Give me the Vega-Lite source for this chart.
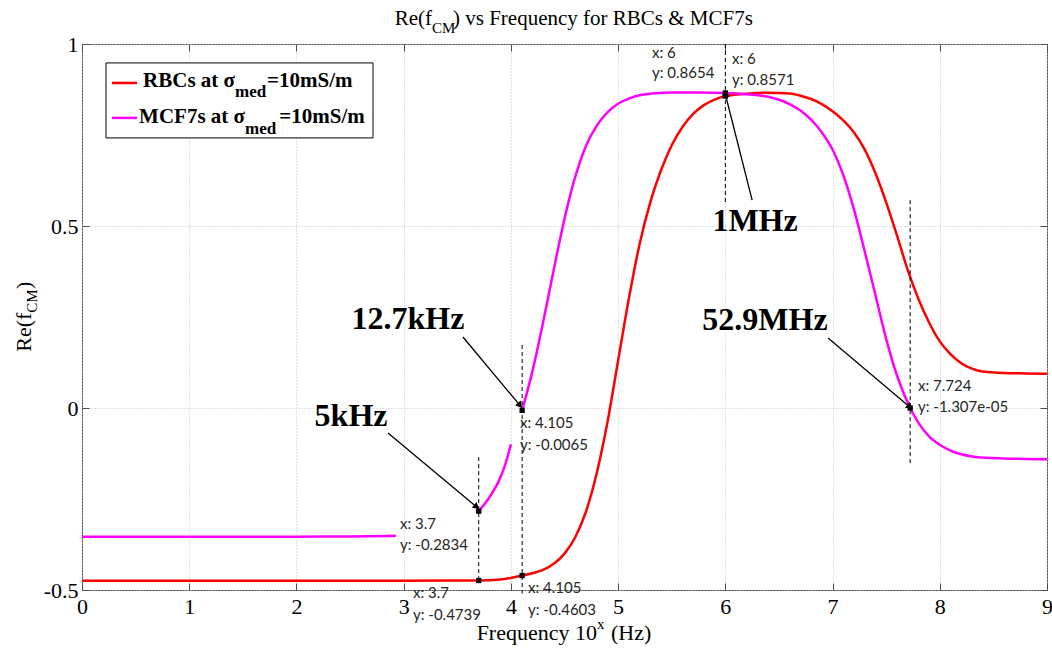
{
  "$schema": "https://vega.github.io/schema/vega-lite/v6.json",
  "width": 965,
  "height": 546,
  "autosize": {"type": "none"},
  "padding": {"left": 82, "top": 44, "right": 5, "bottom": 61},
  "background": "white",
  "config": {
    "view": {"stroke": "#4d4d4d", "strokeWidth": 1},
    "font": "Liberation Serif"
  },
  "datasets": {
    "curves": [
      {"f": 0, "v": -0.4745, "series": "RBCs", "seg": "r"},
      {"f": 1, "v": -0.4745, "series": "RBCs", "seg": "r"},
      {"f": 2, "v": -0.4745, "series": "RBCs", "seg": "r"},
      {"f": 3, "v": -0.4743, "series": "RBCs", "seg": "r"},
      {"f": 3.4, "v": -0.4742, "series": "RBCs", "seg": "r"},
      {"f": 3.7, "v": -0.4739, "series": "RBCs", "seg": "r"},
      {"f": 3.9, "v": -0.4712, "series": "RBCs", "seg": "r"},
      {"f": 4.105, "v": -0.4603, "series": "RBCs", "seg": "r"},
      {"f": 4.2, "v": -0.454, "series": "RBCs", "seg": "r"},
      {"f": 4.3, "v": -0.445, "series": "RBCs", "seg": "r"},
      {"f": 4.4, "v": -0.428, "series": "RBCs", "seg": "r"},
      {"f": 4.5, "v": -0.4, "series": "RBCs", "seg": "r"},
      {"f": 4.6, "v": -0.355, "series": "RBCs", "seg": "r"},
      {"f": 4.7, "v": -0.285, "series": "RBCs", "seg": "r"},
      {"f": 4.8, "v": -0.18, "series": "RBCs", "seg": "r"},
      {"f": 4.9, "v": -0.04, "series": "RBCs", "seg": "r"},
      {"f": 5.0, "v": 0.13, "series": "RBCs", "seg": "r"},
      {"f": 5.1, "v": 0.3, "series": "RBCs", "seg": "r"},
      {"f": 5.2, "v": 0.45, "series": "RBCs", "seg": "r"},
      {"f": 5.3, "v": 0.565, "series": "RBCs", "seg": "r"},
      {"f": 5.4, "v": 0.653, "series": "RBCs", "seg": "r"},
      {"f": 5.5, "v": 0.722, "series": "RBCs", "seg": "r"},
      {"f": 5.6, "v": 0.772, "series": "RBCs", "seg": "r"},
      {"f": 5.7, "v": 0.808, "series": "RBCs", "seg": "r"},
      {"f": 5.8, "v": 0.832, "series": "RBCs", "seg": "r"},
      {"f": 5.9, "v": 0.847, "series": "RBCs", "seg": "r"},
      {"f": 6.0, "v": 0.8571, "series": "RBCs", "seg": "r"},
      {"f": 6.2, "v": 0.8635, "series": "RBCs", "seg": "r"},
      {"f": 6.4, "v": 0.866, "series": "RBCs", "seg": "r"},
      {"f": 6.6, "v": 0.864, "series": "RBCs", "seg": "r"},
      {"f": 6.7, "v": 0.858, "series": "RBCs", "seg": "r"},
      {"f": 6.8, "v": 0.849, "series": "RBCs", "seg": "r"},
      {"f": 6.9, "v": 0.835, "series": "RBCs", "seg": "r"},
      {"f": 7.0, "v": 0.815, "series": "RBCs", "seg": "r"},
      {"f": 7.1, "v": 0.79, "series": "RBCs", "seg": "r"},
      {"f": 7.2, "v": 0.757, "series": "RBCs", "seg": "r"},
      {"f": 7.3, "v": 0.71, "series": "RBCs", "seg": "r"},
      {"f": 7.4, "v": 0.645, "series": "RBCs", "seg": "r"},
      {"f": 7.5, "v": 0.565, "series": "RBCs", "seg": "r"},
      {"f": 7.6, "v": 0.475, "series": "RBCs", "seg": "r"},
      {"f": 7.7, "v": 0.38, "series": "RBCs", "seg": "r"},
      {"f": 7.8, "v": 0.3, "series": "RBCs", "seg": "r"},
      {"f": 7.9, "v": 0.235, "series": "RBCs", "seg": "r"},
      {"f": 8.0, "v": 0.183, "series": "RBCs", "seg": "r"},
      {"f": 8.1, "v": 0.148, "series": "RBCs", "seg": "r"},
      {"f": 8.2, "v": 0.123, "series": "RBCs", "seg": "r"},
      {"f": 8.3, "v": 0.108, "series": "RBCs", "seg": "r"},
      {"f": 8.4, "v": 0.1, "series": "RBCs", "seg": "r"},
      {"f": 8.6, "v": 0.096, "series": "RBCs", "seg": "r"},
      {"f": 8.8, "v": 0.095, "series": "RBCs", "seg": "r"},
      {"f": 9.0, "v": 0.094, "series": "RBCs", "seg": "r"},

      {"f": 0, "v": -0.354, "series": "MCF7s", "seg": "m1"},
      {"f": 1, "v": -0.354, "series": "MCF7s", "seg": "m1"},
      {"f": 2, "v": -0.3535, "series": "MCF7s", "seg": "m1"},
      {"f": 2.5, "v": -0.353, "series": "MCF7s", "seg": "m1"},
      {"f": 2.93, "v": -0.351, "series": "MCF7s", "seg": "m1"},

      {"f": 3.7, "v": -0.2834, "series": "MCF7s", "seg": "m2"},
      {"f": 3.76, "v": -0.262, "series": "MCF7s", "seg": "m2"},
      {"f": 3.82, "v": -0.236, "series": "MCF7s", "seg": "m2"},
      {"f": 3.88, "v": -0.205, "series": "MCF7s", "seg": "m2"},
      {"f": 3.94, "v": -0.162, "series": "MCF7s", "seg": "m2"},
      {"f": 4.0, "v": -0.1, "series": "MCF7s", "seg": "m2"},

      {"f": 4.105, "v": -0.0065, "series": "MCF7s", "seg": "m3"},
      {"f": 4.2, "v": 0.1, "series": "MCF7s", "seg": "m3"},
      {"f": 4.3, "v": 0.235, "series": "MCF7s", "seg": "m3"},
      {"f": 4.4, "v": 0.38, "series": "MCF7s", "seg": "m3"},
      {"f": 4.5, "v": 0.52, "series": "MCF7s", "seg": "m3"},
      {"f": 4.6, "v": 0.635, "series": "MCF7s", "seg": "m3"},
      {"f": 4.7, "v": 0.72, "series": "MCF7s", "seg": "m3"},
      {"f": 4.8, "v": 0.775, "series": "MCF7s", "seg": "m3"},
      {"f": 4.9, "v": 0.812, "series": "MCF7s", "seg": "m3"},
      {"f": 5.0, "v": 0.836, "series": "MCF7s", "seg": "m3"},
      {"f": 5.1, "v": 0.85, "series": "MCF7s", "seg": "m3"},
      {"f": 5.2, "v": 0.859, "series": "MCF7s", "seg": "m3"},
      {"f": 5.35, "v": 0.865, "series": "MCF7s", "seg": "m3"},
      {"f": 5.5, "v": 0.867, "series": "MCF7s", "seg": "m3"},
      {"f": 5.75, "v": 0.867, "series": "MCF7s", "seg": "m3"},
      {"f": 6.0, "v": 0.8654, "series": "MCF7s", "seg": "m3"},
      {"f": 6.2, "v": 0.862, "series": "MCF7s", "seg": "m3"},
      {"f": 6.4, "v": 0.855, "series": "MCF7s", "seg": "m3"},
      {"f": 6.5, "v": 0.847, "series": "MCF7s", "seg": "m3"},
      {"f": 6.6, "v": 0.835, "series": "MCF7s", "seg": "m3"},
      {"f": 6.7, "v": 0.817, "series": "MCF7s", "seg": "m3"},
      {"f": 6.8, "v": 0.792, "series": "MCF7s", "seg": "m3"},
      {"f": 6.9, "v": 0.757, "series": "MCF7s", "seg": "m3"},
      {"f": 7.0, "v": 0.71, "series": "MCF7s", "seg": "m3"},
      {"f": 7.1, "v": 0.64, "series": "MCF7s", "seg": "m3"},
      {"f": 7.2, "v": 0.545, "series": "MCF7s", "seg": "m3"},
      {"f": 7.3, "v": 0.43, "series": "MCF7s", "seg": "m3"},
      {"f": 7.4, "v": 0.31, "series": "MCF7s", "seg": "m3"},
      {"f": 7.5, "v": 0.19, "series": "MCF7s", "seg": "m3"},
      {"f": 7.6, "v": 0.09, "series": "MCF7s", "seg": "m3"},
      {"f": 7.724, "v": 0.0, "series": "MCF7s", "seg": "m3"},
      {"f": 7.8, "v": -0.04, "series": "MCF7s", "seg": "m3"},
      {"f": 7.9, "v": -0.078, "series": "MCF7s", "seg": "m3"},
      {"f": 8.0, "v": -0.101, "series": "MCF7s", "seg": "m3"},
      {"f": 8.1, "v": -0.117, "series": "MCF7s", "seg": "m3"},
      {"f": 8.2, "v": -0.127, "series": "MCF7s", "seg": "m3"},
      {"f": 8.3, "v": -0.133, "series": "MCF7s", "seg": "m3"},
      {"f": 8.45, "v": -0.137, "series": "MCF7s", "seg": "m3"},
      {"f": 8.6, "v": -0.139, "series": "MCF7s", "seg": "m3"},
      {"f": 8.8, "v": -0.14, "series": "MCF7s", "seg": "m3"},
      {"f": 9.0, "v": -0.141, "series": "MCF7s", "seg": "m3"}
    ],
    "tips": [
      {"x": 3.7, "y": -0.2834},
      {"x": 4.105, "y": -0.0065},
      {"x": 3.7, "y": -0.4739},
      {"x": 4.105, "y": -0.4603},
      {"x": 6, "y": 0.8654},
      {"x": 6, "y": 0.8571},
      {"x": 7.724, "y": -0.00001307}
    ],
    "tipText": [
      {"x": 2.966, "y": -0.319, "t": "x: 3.7"},
      {"x": 2.966, "y": -0.376, "t": "y: -0.2834"},
      {"x": 4.085, "y": -0.041, "t": "x: 4.105"},
      {"x": 4.085, "y": -0.102, "t": "y: -0.0065"},
      {"x": 3.087, "y": -0.508, "t": "x: 3.7"},
      {"x": 3.087, "y": -0.569, "t": "y: -0.4739"},
      {"x": 4.16, "y": -0.495, "t": "x: 4.105"},
      {"x": 4.16, "y": -0.555, "t": "y: -0.4603"},
      {"x": 5.316, "y": 0.975, "t": "x: 6"},
      {"x": 5.316, "y": 0.92, "t": "y: 0.8654"},
      {"x": 6.062, "y": 0.959, "t": "x: 6"},
      {"x": 6.062, "y": 0.901, "t": "y: 0.8571"},
      {"x": 7.797, "y": 0.06, "t": "x: 7.724"},
      {"x": 7.797, "y": 0.003, "t": "y: -1.307e-05"}
    ],
    "guides": [
      {"x": 3.7, "y": -0.135, "y2": -0.478},
      {"x": 4.105, "y": 0.173, "y2": -0.51},
      {"x": 6, "y": 1.0, "y2": 0.558},
      {"x": 7.724, "y": 0.571, "y2": -0.157}
    ],
    "arrows": [
      {"x": 2.854, "y": -0.069, "x2": 3.681, "y2": -0.272},
      {"x": 3.553, "y": 0.195, "x2": 4.085, "y2": 0.007},
      {"x": 6.25, "y": 0.571, "x2": 6.0, "y2": 0.862},
      {"x": 6.958, "y": 0.192, "x2": 7.72, "y2": 0.003}
    ],
    "callouts": [
      {"x": 2.509, "y": -0.022, "t": "5kHz"},
      {"x": 3.04, "y": 0.245, "t": "12.7kHz"},
      {"x": 6.277, "y": 0.514, "t": "1MHz"},
      {"x": 6.37, "y": 0.242, "t": "52.9MHz"}
    ]
  },
  "layer": [
    {
      "data": {"name": "curves"},
      "mark": {"type": "line", "strokeWidth": 2.5, "interpolate": "monotone"},
      "encoding": {
        "x": {
          "field": "f", "type": "quantitative",
          "scale": {"domain": [0, 9], "nice": false, "zero": false},
          "axis": {
            "orient": "bottom", "title": null, "values": [0, 1, 2, 3, 4, 5, 6, 7, 8, 9],
            "format": "d", "domain": false,
            "grid": true, "gridColor": "#c4c4c4", "gridDash": [1, 2], "gridWidth": 1,
            "tickSize": -7, "tickColor": "#4d4d4d", "labelPadding": 13,
            "labelFont": "Liberation Serif", "labelFontSize": 22, "labelColor": "#000",
            "labelFlush": false, "labelOverlap": false, "labelBound": false
          }
        },
        "y": {
          "field": "v", "type": "quantitative",
          "scale": {"domain": [-0.5, 1], "nice": false, "zero": false},
          "axis": {
            "orient": "left", "title": null, "values": [-0.5, 0, 0.5, 1],
            "labelExpr": "'' + datum.value", "domain": false,
            "grid": true, "gridColor": "#c4c4c4", "gridDash": [1, 2], "gridWidth": 1,
            "tickSize": -7, "tickColor": "#4d4d4d", "labelPadding": 11,
            "labelFont": "Liberation Serif", "labelFontSize": 22, "labelColor": "#000",
            "labelFlush": false, "labelOverlap": false, "labelBound": false
          }
        },
        "color": {
          "field": "series", "type": "nominal",
          "scale": {"domain": ["RBCs", "MCF7s"], "range": ["#ff0000", "#ff00ff"]},
          "legend": null
        },
        "detail": {"field": "seg", "type": "nominal"}
      }
    },
    {
      "data": {"name": "guides"},
      "mark": {"type": "rule", "color": "#000", "strokeWidth": 1, "strokeDash": [4, 3]},
      "encoding": {
        "x": {"field": "x", "type": "quantitative", "scale": {"domain": [0, 9], "nice": false, "zero": false}, "axis": null},
        "y": {"field": "y", "type": "quantitative", "scale": {"domain": [-0.5, 1], "nice": false, "zero": false}, "axis": null},
        "y2": {"field": "y2"}
      }
    },
    {
      "data": {"name": "arrows"},
      "mark": {"type": "rule", "color": "#000", "strokeWidth": 1.3},
      "encoding": {
        "x": {"field": "x", "type": "quantitative", "scale": {"domain": [0, 9], "nice": false, "zero": false}, "axis": null},
        "y": {"field": "y", "type": "quantitative", "scale": {"domain": [-0.5, 1], "nice": false, "zero": false}, "axis": null},
        "x2": {"field": "x2"},
        "y2": {"field": "y2"}
      }
    },
    {
      "data": {"name": "arrows"},
      "transform": [
        {"calculate": "atan2((datum.x2 - datum.x) * 107.22, (datum.y2 - datum.y) * 364) * 180 / PI", "as": "heading"}
      ],
      "mark": {"type": "point", "shape": "triangle-up", "filled": true, "color": "#000", "size": 55, "opacity": 1},
      "encoding": {
        "x": {"field": "x2", "type": "quantitative", "scale": {"domain": [0, 9], "nice": false, "zero": false}, "axis": null},
        "y": {"field": "y2", "type": "quantitative", "scale": {"domain": [-0.5, 1], "nice": false, "zero": false}, "axis": null},
        "angle": {"field": "heading", "type": "quantitative", "scale": null}
      }
    },
    {
      "data": {"name": "tips"},
      "mark": {"type": "point", "shape": "square", "filled": true, "color": "#000", "size": 28, "opacity": 1},
      "encoding": {
        "x": {
          "field": "x", "type": "quantitative",
          "scale": {"domain": [0, 9], "nice": false, "zero": false},
          "axis": {"orient": "top", "title": null, "values": [0, 1, 2, 3, 4, 5, 6, 7, 8, 9], "labels": false, "domain": false, "grid": false, "tickSize": -7, "tickColor": "#4d4d4d"}
        },
        "y": {
          "field": "y", "type": "quantitative",
          "scale": {"domain": [-0.5, 1], "nice": false, "zero": false},
          "axis": {"orient": "right", "title": null, "values": [-0.5, 0, 0.5, 1], "labels": false, "domain": false, "grid": false, "tickSize": -7, "tickColor": "#4d4d4d"}
        }
      }
    },
    {
      "data": {"name": "tipText"},
      "mark": {"type": "text", "align": "left", "baseline": "middle", "font": "Lato", "fontSize": 15, "color": "#262626"},
      "encoding": {
        "x": {"field": "x", "type": "quantitative", "scale": {"domain": [0, 9], "nice": false, "zero": false}, "axis": null},
        "y": {"field": "y", "type": "quantitative", "scale": {"domain": [-0.5, 1], "nice": false, "zero": false}, "axis": null},
        "text": {"field": "t"}
      }
    },
    {
      "data": {"name": "callouts"},
      "mark": {"type": "text", "align": "center", "baseline": "middle", "font": "Liberation Serif", "fontWeight": "bold", "fontSize": 32, "color": "#000"},
      "encoding": {
        "x": {"field": "x", "type": "quantitative", "scale": {"domain": [0, 9], "nice": false, "zero": false}, "axis": null},
        "y": {"field": "y", "type": "quantitative", "scale": {"domain": [-0.5, 1], "nice": false, "zero": false}, "axis": null},
        "text": {"field": "t"}
      }
    },
    {
      "data": {"values": [{"x": 0.224, "x2": 2.714, "y": 0.948, "y2": 0.742}]},
      "mark": {"type": "rect", "fill": "#fff", "stroke": "#000", "strokeWidth": 1},
      "encoding": {
        "x": {"field": "x", "type": "quantitative", "scale": {"domain": [0, 9], "nice": false, "zero": false}, "axis": null},
        "y": {"field": "y", "type": "quantitative", "scale": {"domain": [-0.5, 1], "nice": false, "zero": false}, "axis": null},
        "x2": {"field": "x2"},
        "y2": {"field": "y2"}
      }
    },
    {
      "data": {"values": [
        {"x": 0.28, "x2": 0.513, "y": 0.893, "series": "RBCs"},
        {"x": 0.28, "x2": 0.513, "y": 0.797, "series": "MCF7s"}
      ]},
      "mark": {"type": "rule", "strokeWidth": 2.5},
      "encoding": {
        "x": {"field": "x", "type": "quantitative", "scale": {"domain": [0, 9], "nice": false, "zero": false}, "axis": null},
        "y": {"field": "y", "type": "quantitative", "scale": {"domain": [-0.5, 1], "nice": false, "zero": false}, "axis": null},
        "x2": {"field": "x2"},
        "color": {"field": "series", "type": "nominal", "scale": {"domain": ["RBCs", "MCF7s"], "range": ["#ff0000", "#ff00ff"]}, "legend": null}
      }
    },
    {
      "data": {"values": [
        {"x": 1.427, "y": 0.882, "t": "RBCs at σ"},
        {"x": 1.52, "y": 0.783, "t": "MCF7s at σ"}
      ]},
      "mark": {"type": "text", "align": "right", "baseline": "alphabetic", "font": "Liberation Serif", "fontWeight": "bold", "fontSize": 21, "color": "#000"},
      "encoding": {
        "x": {"field": "x", "type": "quantitative", "scale": {"domain": [0, 9], "nice": false, "zero": false}, "axis": null},
        "y": {"field": "y", "type": "quantitative", "scale": {"domain": [-0.5, 1], "nice": false, "zero": false}, "axis": null},
        "text": {"field": "t"}
      }
    },
    {
      "data": {"values": [
        {"x": 1.427, "y": 0.854, "t": "med"},
        {"x": 1.52, "y": 0.753, "t": "med"}
      ]},
      "mark": {"type": "text", "align": "left", "baseline": "alphabetic", "font": "Liberation Serif", "fontWeight": "bold", "fontSize": 17, "color": "#000"},
      "encoding": {
        "x": {"field": "x", "type": "quantitative", "scale": {"domain": [0, 9], "nice": false, "zero": false}, "axis": null},
        "y": {"field": "y", "type": "quantitative", "scale": {"domain": [-0.5, 1], "nice": false, "zero": false}, "axis": null},
        "text": {"field": "t"}
      }
    },
    {
      "data": {"values": [
        {"x": 1.7255, "y": 0.882, "t": "=10mS/m"},
        {"x": 1.84, "y": 0.783, "t": "=10mS/m"}
      ]},
      "mark": {"type": "text", "align": "left", "baseline": "alphabetic", "font": "Liberation Serif", "fontWeight": "bold", "fontSize": 21, "color": "#000"},
      "encoding": {
        "x": {"field": "x", "type": "quantitative", "scale": {"domain": [0, 9], "nice": false, "zero": false}, "axis": null},
        "y": {"field": "y", "type": "quantitative", "scale": {"domain": [-0.5, 1], "nice": false, "zero": false}, "axis": null},
        "text": {"field": "t"}
      }
    },
    {
      "data": {"values": [{"x": 3.264, "y": 1.0522, "t": "Re(f"}]},
      "mark": {"type": "text", "align": "right", "baseline": "alphabetic", "font": "Liberation Serif", "fontSize": 21, "color": "#000"},
      "encoding": {
        "x": {"field": "x", "type": "quantitative", "scale": {"domain": [0, 9], "nice": false, "zero": false}, "axis": null},
        "y": {"field": "y", "type": "quantitative", "scale": {"domain": [-0.5, 1], "nice": false, "zero": false}, "axis": null},
        "text": {"field": "t"}
      }
    },
    {
      "data": {"values": [{"x": 3.264, "y": 1.0302, "t": "CM"}]},
      "mark": {"type": "text", "align": "left", "baseline": "alphabetic", "font": "Liberation Serif", "fontSize": 15, "color": "#000"},
      "encoding": {
        "x": {"field": "x", "type": "quantitative", "scale": {"domain": [0, 9], "nice": false, "zero": false}, "axis": null},
        "y": {"field": "y", "type": "quantitative", "scale": {"domain": [-0.5, 1], "nice": false, "zero": false}, "axis": null},
        "text": {"field": "t"}
      }
    },
    {
      "data": {"values": [{"x": 3.46, "y": 1.0522, "t": ") vs Frequency for RBCs & MCF7s"}]},
      "mark": {"type": "text", "align": "left", "baseline": "alphabetic", "font": "Liberation Serif", "fontSize": 21, "color": "#000"},
      "encoding": {
        "x": {"field": "x", "type": "quantitative", "scale": {"domain": [0, 9], "nice": false, "zero": false}, "axis": null},
        "y": {"field": "y", "type": "quantitative", "scale": {"domain": [-0.5, 1], "nice": false, "zero": false}, "axis": null},
        "text": {"field": "t"}
      }
    },
    {
      "data": {"values": [{"x": 4.803, "y": -0.637, "t": "Frequency 10"}]},
      "mark": {"type": "text", "align": "right", "baseline": "alphabetic", "font": "Liberation Serif", "fontSize": 22, "color": "#000"},
      "encoding": {
        "x": {"field": "x", "type": "quantitative", "scale": {"domain": [0, 9], "nice": false, "zero": false}, "axis": null},
        "y": {"field": "y", "type": "quantitative", "scale": {"domain": [-0.5, 1], "nice": false, "zero": false}, "axis": null},
        "text": {"field": "t"}
      }
    },
    {
      "data": {"values": [{"x": 4.803, "y": -0.607, "t": "x"}]},
      "mark": {"type": "text", "align": "left", "baseline": "alphabetic", "font": "Liberation Serif", "fontSize": 15, "color": "#000"},
      "encoding": {
        "x": {"field": "x", "type": "quantitative", "scale": {"domain": [0, 9], "nice": false, "zero": false}, "axis": null},
        "y": {"field": "y", "type": "quantitative", "scale": {"domain": [-0.5, 1], "nice": false, "zero": false}, "axis": null},
        "text": {"field": "t"}
      }
    },
    {
      "data": {"values": [{"x": 4.934, "y": -0.637, "t": "(Hz)"}]},
      "mark": {"type": "text", "align": "left", "baseline": "alphabetic", "font": "Liberation Serif", "fontSize": 22, "color": "#000"},
      "encoding": {
        "x": {"field": "x", "type": "quantitative", "scale": {"domain": [0, 9], "nice": false, "zero": false}, "axis": null},
        "y": {"field": "y", "type": "quantitative", "scale": {"domain": [-0.5, 1], "nice": false, "zero": false}, "axis": null},
        "text": {"field": "t"}
      }
    },
    {
      "data": {"values": [{"x": -0.476, "y": 0.262, "t": "Re(f"}]},
      "mark": {"type": "text", "align": "right", "baseline": "alphabetic", "angle": 270, "font": "Liberation Serif", "fontSize": 22, "color": "#000"},
      "encoding": {
        "x": {"field": "x", "type": "quantitative", "scale": {"domain": [0, 9], "nice": false, "zero": false}, "axis": null},
        "y": {"field": "y", "type": "quantitative", "scale": {"domain": [-0.5, 1], "nice": false, "zero": false}, "axis": null},
        "text": {"field": "t"}
      }
    },
    {
      "data": {"values": [{"x": -0.42, "y": 0.262, "t": "CM"}]},
      "mark": {"type": "text", "align": "left", "baseline": "alphabetic", "angle": 270, "font": "Liberation Serif", "fontSize": 15, "color": "#000"},
      "encoding": {
        "x": {"field": "x", "type": "quantitative", "scale": {"domain": [0, 9], "nice": false, "zero": false}, "axis": null},
        "y": {"field": "y", "type": "quantitative", "scale": {"domain": [-0.5, 1], "nice": false, "zero": false}, "axis": null},
        "text": {"field": "t"}
      }
    },
    {
      "data": {"values": [{"x": -0.476, "y": 0.327, "t": ")"}]},
      "mark": {"type": "text", "align": "left", "baseline": "alphabetic", "angle": 270, "font": "Liberation Serif", "fontSize": 22, "color": "#000"},
      "encoding": {
        "x": {"field": "x", "type": "quantitative", "scale": {"domain": [0, 9], "nice": false, "zero": false}, "axis": null},
        "y": {"field": "y", "type": "quantitative", "scale": {"domain": [-0.5, 1], "nice": false, "zero": false}, "axis": null},
        "text": {"field": "t"}
      }
    }
  ],
  "resolve": {"axis": {"x": "independent", "y": "independent"}}
}
